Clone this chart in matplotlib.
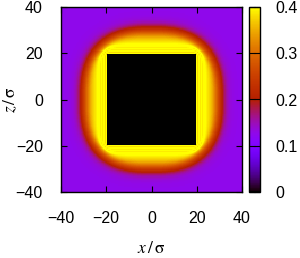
import numpy as np
import matplotlib
matplotlib.use("Agg")
import matplotlib.pyplot as plt

plt.rcParams['font.family'] = ['Liberation Sans', 'DejaVu Sans']
plt.rcParams['mathtext.fontset'] = 'stix'

# density profile vs distance to the wall, middle of a side
dist_mur = [0, 0.5, 1, 1.5, 2, 2.5, 3, 4, 5, 6, 7, 8, 9, 10, 11, 12, 13, 14, 15, 17, 20, 80]
densite = [0.42, 0.37, 0.42, 0.38, 0.42, 0.385, 0.41, 0.40, 0.385, 0.37, 0.35, 0.32,
           0.285, 0.25, 0.215, 0.185, 0.16, 0.145, 0.135, 0.128, 0.125, 0.125]
demi_cote = 20          # obstacle: square from -20 to 20
limites = [-40, 40]
ticks_xz = [-40, -20, 0, 20, 40]
ticks_cb = [0, 0.1, 0.2, 0.3, 0.4]

# grille
x = np.arange(-40, 40.01, 0.5)
z = np.arange(-40, 40.01, 0.5)
X, Z = np.meshgrid(x, z)
AX, AZ = np.abs(X) + 1e-9, np.abs(Z) + 1e-9
M = np.maximum(AX, AZ)

# iso-density lines: squircles, square at the wall, rounder further out
niveaux = np.arange(0, 40, 0.1)
s = np.full(X.shape, niveaux[-1])
trouve = np.zeros(X.shape, bool)
for niv in niveaux:
    p = 2.5 + 28 * np.exp(-niv / 1.8)
    norme = M * ((AX / M)**p + (AZ / M)**p)**(1 / p)
    ok = (norme <= demi_cote + niv) & ~trouve
    s[ok] = niv
    trouve |= ok

rho = np.interp(s, dist_mur, densite)
rho[(np.abs(X) < demi_cote) & (np.abs(Z) < demi_cote)] = 0.0

fig = plt.figure(figsize=(3.0, 2.58), dpi=100)
ax = fig.add_axes([61/300, 1 - 192/258, 181/300, 185/258])
cax = fig.add_axes([249/300, 1 - 192/258, 11/300, 185/258])

im = ax.pcolormesh(x, z, rho, cmap='gnuplot', vmin=0, vmax=0.4, shading='nearest')
ax.set_xlim(limites)
ax.set_ylim(limites)
ax.set_xticks(ticks_xz)
ax.set_yticks(ticks_xz)
ax.tick_params(direction='in', top=True, right=True, labelsize=11.5, length=4)
ax.tick_params(axis='x', pad=14)
ax.tick_params(axis='y', pad=13)
ax.set_xlabel(r'$x\,/\,\mathrm{\sigma}$', fontsize=12.5)
ax.set_ylabel(r'$z\,/\,\mathrm{\sigma}$', fontsize=12.5)
ax.xaxis.set_label_coords(0.5, (192 - 240) / 185)
ax.yaxis.set_label_coords((19 - 61) / 181, 0.5)
for sp in ax.spines.values():
    sp.set_linewidth(1.0)

cb = fig.colorbar(im, cax=cax)
cb.set_ticks(ticks_cb)
cb.set_ticklabels(['0', '0.1', '0.2', '0.3', '0.4'])
cax.tick_params(direction='in', left=True, right=True, labelsize=11.5, length=4, pad=11)
cb.outline.set_linewidth(1.0)

fig.savefig('out.png', dpi=100)
